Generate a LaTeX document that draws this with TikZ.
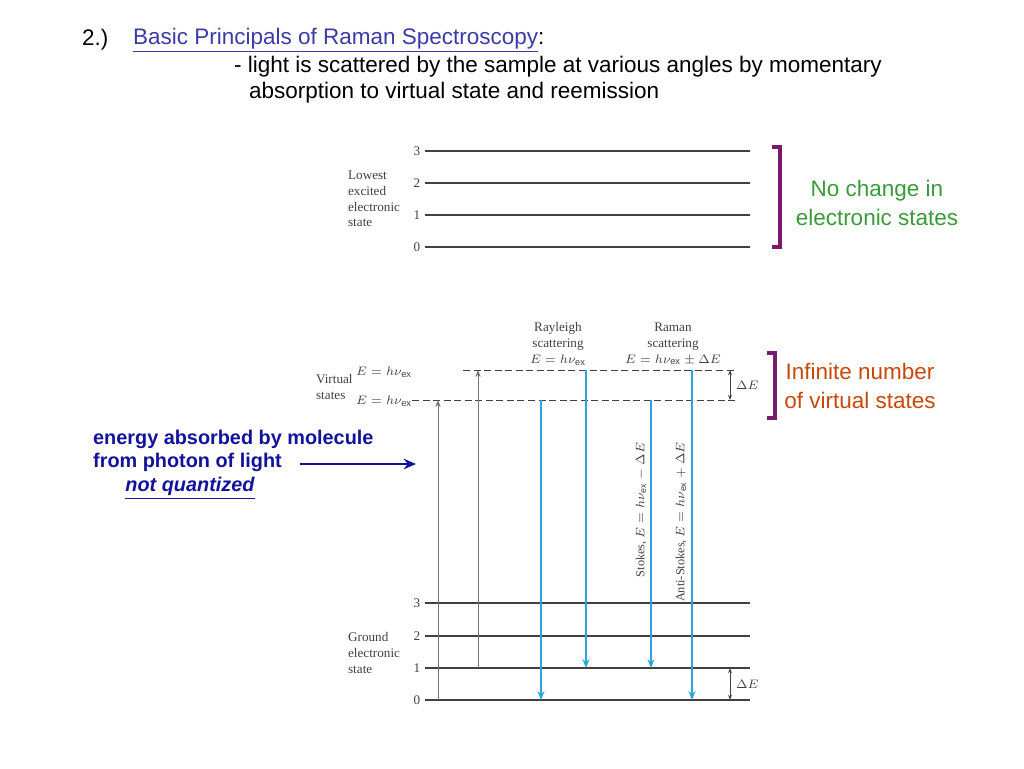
\documentclass[tikz,border=0pt]{standalone}
\usepackage{fontspec}
\setmainfont{Liberation Sans}
\newfontfamily\diagfont{Liberation Serif}
\usepackage{xcolor}
\usetikzlibrary{calc,arrows.meta}
\definecolor{titleblue}{HTML}{3B3BA8}
\definecolor{notegreen}{HTML}{3A9A3A}
\definecolor{noteorange}{HTML}{C8480A}
\definecolor{brackpurple}{HTML}{7A1A6E}
\definecolor{navy}{HTML}{12129A}
\definecolor{scatblue}{HTML}{2AA6DE}
\tikzset{
  level/.style={draw=black!75, line width=0.6pt},
  dlabel/.style={font=\diagfont\fontsize{7.5}{9}\selectfont, text=black!75, inner sep=1pt},
  note/.style={font=\fontsize{12.8}{16}\selectfont, align=center},
  head/.style={anchor=west, font=\fontsize{12.8}{15}\selectfont},
  upline/.style={draw=black!55, line width=0.5pt, -{Stealth[length=4pt,width=3pt]}},
  scat/.style={draw=scatblue, line width=0.8pt, -{Stealth[length=5pt,width=4pt]}},
  bracket/.style={draw=brackpurple, line width=2pt}
}
\begin{document}
\begin{tikzpicture}[x=0.02cm, y=-0.02cm]
    \useasboundingbox (0,0) rectangle (1024,768);

    % Heading
    \node[head] (num) at (76,40) {2.)};
    \node[head, text=titleblue] (title) at (127,40) {\underline{Basic Principals of Raman Spectroscopy}\textcolor{black}{:}};
    \node[head] (line1) at (228,67) {- light is scattered by the sample at various angles by momentary};
    \node[head] (line2) at (243,93) {absorption to virtual state and reemission};

    % Lowest excited electronic state
    \foreach \n/\y in {3/151,2/183,1/215} {
        \draw[level] (425,\y) -- (750,\y);
        \node[dlabel] (e\n) at (417,\y) {\n};
    }
    \draw[level, line width=1.2pt] (425,247) -- (750,247);
    \node[dlabel] (e0) at (417,247) {0};
    \node[dlabel, align=left, anchor=west] (lowest) at (346,199) {Lowest\\excited\\electronic\\state};

    \draw[bracket] (772,147) -- (780,147) -- (780,247) -- (772,247);
    \node[note, text=notegreen] (nochange) at (877,203) {No change in\\electronic states};

    % Ground electronic state
    \foreach \n/\y in {3/603,2/636,1/668} {
        \draw[level] (425,\y) -- (750,\y);
        \node[dlabel] (g\n) at (417,\y) {\n};
    }
    \draw[level, line width=1.2pt] (425,700) -- (750,700);
    \node[dlabel] (g0) at (417,700) {0};
    \node[dlabel, align=left, anchor=west] (ground) at (346,653) {Ground\\electronic\\state};

    % Virtual states
    \draw[level, dash pattern=on 4pt off 2pt, line width=0.5pt] (463,370) -- (735,370);
    \draw[level, dash pattern=on 4pt off 2pt, line width=0.5pt] (412,400) -- (735,400);
    \node[dlabel, align=left, anchor=west] (virtual) at (314,387) {Virtual\\states};
    \node[dlabel, anchor=east] (vtop) at (414,372) {$E = h\nu_{\mathrm{ex}}$};
    \node[dlabel, anchor=east] (vbot) at (414,401) {$E = h\nu_{\mathrm{ex}}$};
    \node[dlabel, align=center] (rayleigh) at (558,344) {Rayleigh\\scattering\\$E = h\nu_{\mathrm{ex}}$};
    \node[dlabel, align=center] (raman) at (673,344) {Raman\\scattering\\$E = h\nu_{\mathrm{ex}} \pm \Delta E$};

    % Excitation and scattering
    \draw[upline] (438,700) -- (438,400);
    \draw[upline] (478,668) -- (478,370);
    \draw[scat, line width=1.2pt] (541,400) -- (541,700);
    \draw[scat] (586,370) -- (586,668);
    \draw[scat] (651,400) -- (651,668);
    \draw[scat] (692,370) -- (692,700);
    \node[dlabel, rotate=90, font=\diagfont\fontsize{7}{8}\selectfont] (stokes) at (641,510) {Stokes, $E = h\nu_{\mathrm{ex}} - \Delta E$};
    \node[dlabel, rotate=90, font=\diagfont\fontsize{7}{8}\selectfont] (antistokes) at (681,522) {Anti-Stokes, $E = h\nu_{\mathrm{ex}} + \Delta E$};

    % Delta E markers
    \draw[black!75, line width=0.5pt, {Stealth[length=3pt]}-{Stealth[length=3pt]}] (730,370) -- (730,400);
    \node[dlabel, anchor=west] (dEtop) at (734,385) {$\Delta E$};
    \draw[black!75, line width=0.5pt, {Stealth[length=3pt]}-{Stealth[length=3pt]}] (730,668) -- (730,700);
    \node[dlabel, anchor=west] (dEbot) at (734,684) {$\Delta E$};

    \draw[bracket] (767,353) -- (775,353) -- (775,418) -- (767,418);
    \node[note, text=noteorange] (infinite) at (860,386) {Infinite number\\of virtual states};

    % Absorbed energy note
    \node[anchor=west, font=\bfseries\fontsize{11.3}{13.5}\selectfont, text=navy, align=left] (absorbed) at (87,451) {energy absorbed by molecule\\from photon of light};
    \node[font=\bfseries\itshape\fontsize{11.3}{13.5}\selectfont, text=navy] (quant) at (190,488) {\underline{not quantized}};
    \coordinate (arrowtip) at (416,464);
    \draw[navy, line width=1.6pt, -{Stealth[length=7pt,width=6pt]}] (300,464) -- (arrowtip);

\end{tikzpicture}
\end{document}
